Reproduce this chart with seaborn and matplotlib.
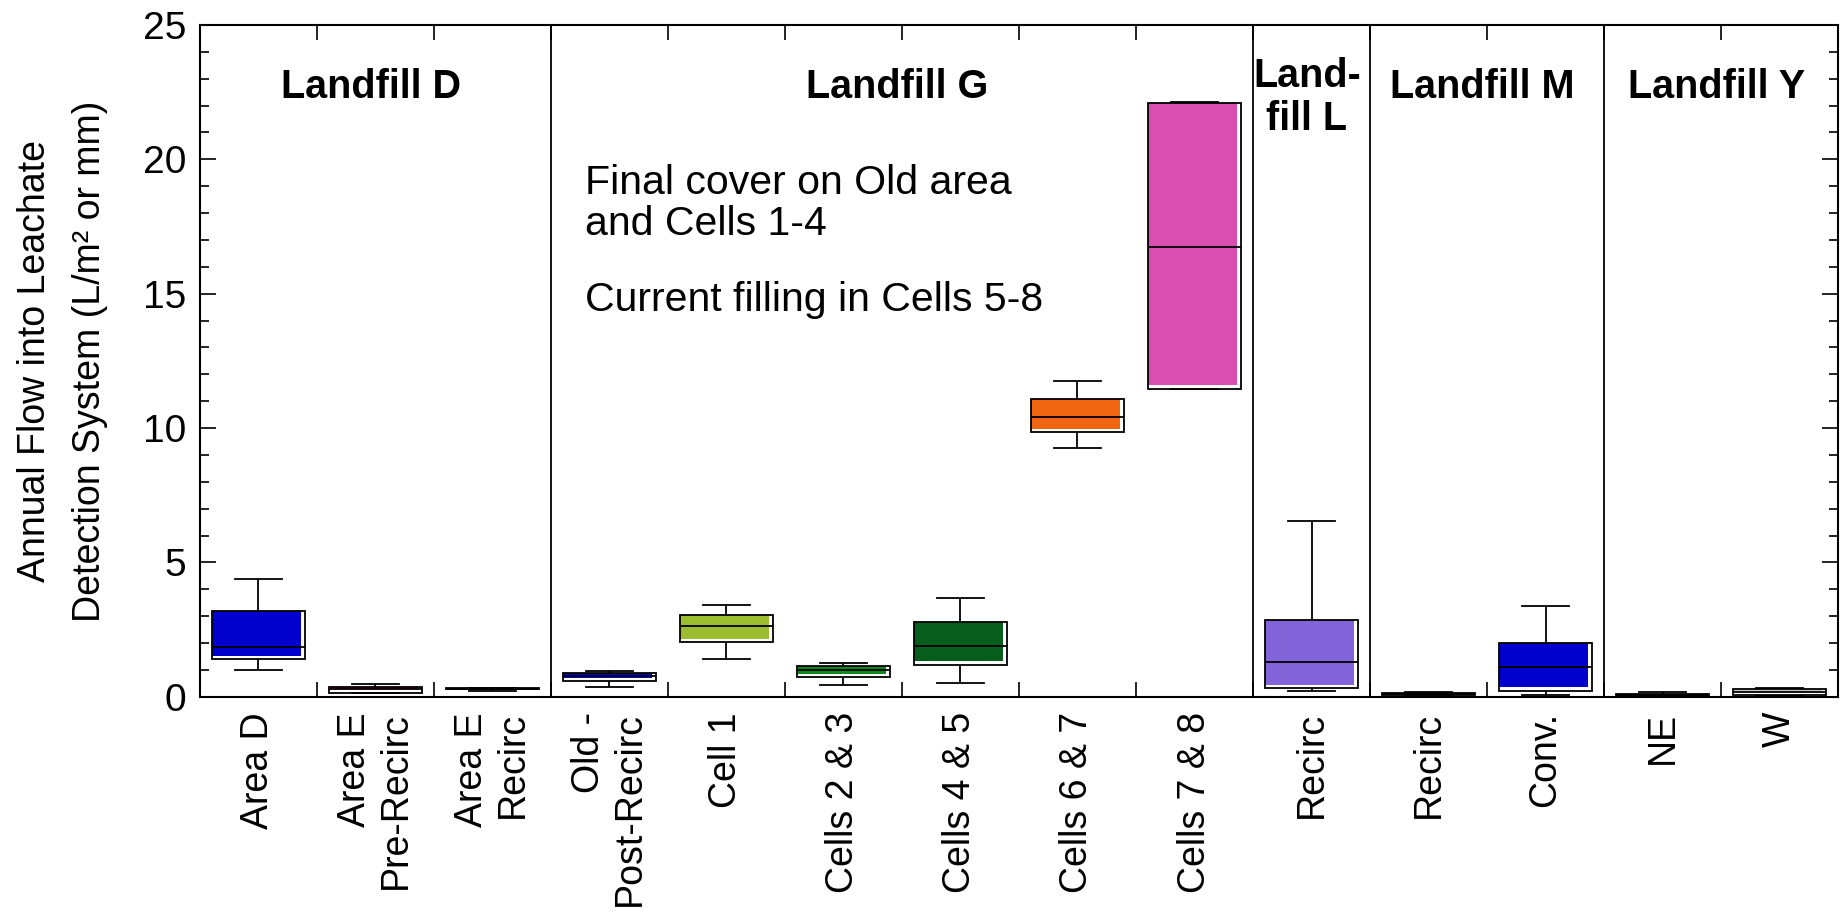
import numpy as np
import pandas as pd
import matplotlib
matplotlib.use("Agg")
import matplotlib.pyplot as plt
import seaborn as sns
from matplotlib.patheffects import AbstractPathEffect, Normal
from matplotlib.path import Path
from matplotlib.transforms import IdentityTransform
from matplotlib.colors import to_rgba
from matplotlib.ticker import MultipleLocator

# ---- data: five-number summaries per monitoring unit ----
categories = ["D_AreaD", "D_AreaE_Pre", "D_AreaE_Recirc",
              "G_Old", "G_Cell1", "G_Cells23", "G_Cells45", "G_Cells67", "G_Cells78",
              "L_Recirc", "M_Recirc", "M_Conv", "Y_NE", "Y_W"]
tick_labels = ["Area D", "Area E\nPre-Recirc", "Area E\nRecirc",
               "Old -\nPost-Recirc", "Cell 1", "Cells 2 & 3", "Cells 4 & 5",
               "Cells 6 & 7", "Cells 7 & 8", "Recirc", "Recirc", "Conv.", "NE", "W"]
whisk_lo = [1.00, 0.13, 0.21, 0.36, 1.40, 0.45, 0.51, 9.27, 11.45, 0.20, 0.06, 0.05, 0.03, 0.02]
q1       = [1.40, 0.15, 0.27, 0.57, 2.03, 0.72, 1.19, 9.84, 11.47, 0.33, 0.08, 0.22, 0.05, 0.05]
median   = [1.85, 0.30, 0.29, 0.78, 2.65, 0.99, 1.89, 10.42, 16.75, 1.30, 0.10, 1.11, 0.08, 0.18]
q3       = [3.20, 0.38, 0.31, 0.90, 3.04, 1.13, 2.79, 11.08, 22.10, 2.85, 0.15, 2.01, 0.11, 0.29]
whisk_hi = [4.37, 0.47, 0.32, 0.95, 3.40, 1.25, 3.68, 11.75, 22.12, 6.55, 0.16, 3.38, 0.17, 0.34]
colors   = ["#0000cc", "#e00000", "#111111", "#0000cc", "#9bbd2f", "#0a8a1a",
            "#075e1c", "#f0650f", "#d94fb0", "#8164d8", "#111111", "#0000cc",
            "#111111", "#c8c8c8"]

group_names = ["Landfill D", "Landfill G", "Land-\nfill L", "Landfill M", "Landfill Y"]
group_sizes = [3, 6, 1, 2, 2]

# long table: each unit contributes its five summary values
rows = []
for i, cat in enumerate(categories):
    for v in (whisk_lo[i], q1[i], median[i], q3[i], whisk_hi[i]):
        rows.append({"unit": cat, "flow": v})
df = pd.DataFrame(rows)
palette = dict(zip(categories, colors))


class InsetFill(AbstractPathEffect):
    """Fill the patch with a colour, leaving a thin white strip at right and bottom."""

    def __init__(self, color, right=3.4, bottom=2.4):
        super().__init__()
        self.color = to_rgba(color)
        self.right = right
        self.bottom = bottom

    def draw_path(self, renderer, gc, tpath, affine, rgbFace=None):
        verts = affine.transform(tpath.vertices)
        codes = tpath.codes
        mask = np.ones(len(verts), bool) if codes is None else codes != Path.CLOSEPOLY
        x0, y0 = verts[mask].min(axis=0)
        x1, y1 = verts[mask].max(axis=0)
        w, h = x1 - x0, y1 - y0
        r = renderer.points_to_pixels(self.right)
        b = renderer.points_to_pixels(self.bottom)
        if w <= r or h <= b:
            return
        new = verts.copy()
        new[:, 0] = x0 + (verts[:, 0] - x0) * (w - r) / w
        new[:, 1] = y1 - (y1 - verts[:, 1]) * (h - b) / h
        gc0 = renderer.new_gc()
        gc0.copy_properties(gc)
        gc0.set_linewidth(0)
        renderer.draw_path(gc0, Path(new, codes), IdentityTransform(), self.color)
        gc0.restore()


plt.rcParams["font.family"] = ["Liberation Sans", "DejaVu Sans"]
plt.rcParams["axes.linewidth"] = 1.5

fig = plt.figure(figsize=(18.46, 9.21), dpi=100)
ax = fig.add_axes([0.1083, 0.2435, 0.8874, 0.7294])

sns.boxplot(data=df, x="unit", y="flow", hue="unit", order=categories,
            hue_order=categories, palette=palette, saturation=1, dodge=False,
            whis=(0, 100), width=0.8, linewidth=1.3, linecolor="black",
            fliersize=0, legend=False, ax=ax)

for p in ax.patches:
    fc = p.get_facecolor()
    p.set_facecolor("none")
    p.set_path_effects([InsetFill(fc), Normal()])

ax.set_xlim(-0.5, len(categories) - 0.5)
ax.set_ylim(0, 25)
ax.set_xlabel("")

# category ticks and labels
ax.set_xticks(np.arange(len(categories)))
ax.set_xticklabels(tick_labels, rotation=90, va="top", ha="center",
                   multialignment="right", fontsize=27)
ax.set_xticks(np.arange(0.5, len(categories) - 1), minor=True)
ax.tick_params(axis="x", which="major", length=0, pad=11)
ax.tick_params(axis="x", which="minor", direction="in", length=11,
               width=1.2, top=True, bottom=True)

ax.set_yticks(np.arange(0, 26, 5))
ax.yaxis.set_minor_locator(MultipleLocator(1))
ax.tick_params(axis="y", which="major", direction="in", length=11.5, width=1.2,
               left=True, right=True, labelsize=28, pad=10)
ax.tick_params(axis="y", which="minor", direction="in", length=6.5, width=1.2,
               left=True, right=True)

ax.set_ylabel("Annual Flow into Leachate\nDetection System (L/m\u00b2 or mm)",
              fontsize=27, linespacing=1.7, multialignment="center")
ax.yaxis.set_label_coords(-0.056, 0.5)

# landfill group separators and titles
edges = np.cumsum([0] + group_sizes) - 0.5
for b in edges[1:-1]:
    ax.axvline(b, color="black", lw=1.3)
for name, lo, hi in zip(group_names, edges[:-1], edges[1:]):
    yy = 22.3 if "\n" in name else 22.7
    ax.text((lo + hi) / 2 - 0.04, yy, name, ha="center", va="center",
            fontsize=28.5, fontweight="bold", linespacing=1.15)

ax.text(2.79, 18.34, "Final cover on Old area\nand Cells 1-4", ha="left",
        va="center", fontsize=29.5, linespacing=1.1)
ax.text(2.79, 14.75, "Current filling in Cells 5-8", ha="left",
        va="center", fontsize=29.5)

fig.savefig("out.png", dpi=100)
